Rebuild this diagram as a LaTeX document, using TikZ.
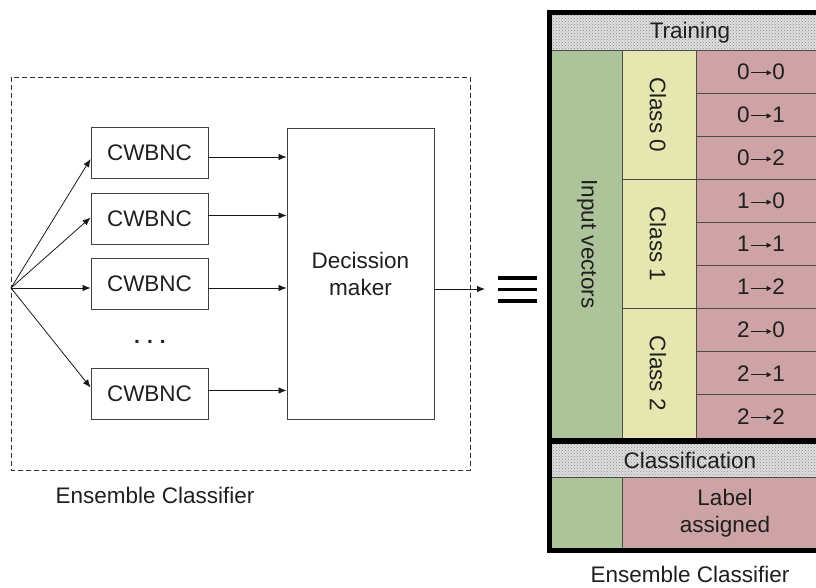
\documentclass[tikz,border=0pt]{standalone}
\usepackage{fontspec}
\setmainfont{Liberation Sans}
\usetikzlibrary{calc,patterns,arrows.meta}

\definecolor{ivgreen}{RGB}{173,196,155}
\definecolor{clyellow}{RGB}{230,230,176}
\definecolor{prpink}{RGB}{205,163,165}
\definecolor{hdrbase}{RGB}{222,222,222}

% thin long arrow used inside the mapping cells
\newcommand\maparrow{\kern0.5pt\tikz[baseline=0pt,x=1pt,y=1pt]{\draw[line width=0.9pt, black!88, -{Triangle[length=5pt,width=5pt]}] (0,6.5) -- (21,6.5);}\kern0.5pt}

\begin{document}
\begin{tikzpicture}[x=1pt,y=-1pt,
  lbl/.style={font=\fontsize{22.5}{27}\selectfont, text=black!88, inner sep=0pt},
  block/.style={draw=black!75, line width=0.9pt, inner sep=0pt, lbl},
  arr/.style={-{Latex[length=8pt,width=6.5pt]}, line width=0.8pt, draw=black!90},
  sep/.style={draw=black!70, line width=0.8pt},
  hdr/.style={fill=hdrbase, postaction={pattern=crosshatch dots, pattern color=black!45}}
]
\useasboundingbox (0,0) rectangle (816,587);
\clip (0,0) rectangle (816,587);

% ---------------- ensemble of CWBNC classifiers ----------------
\draw[draw=black!80, line width=0.8pt, dash pattern=on 5pt off 3pt] (11,77) rectangle (470,470);

\coordinate (src) at (11,288);
\node[block, minimum width=117pt, minimum height=51pt] (c1) at (149.5,153) {CWBNC};
\node[block, minimum width=117pt, minimum height=51pt] (c2) at (149.5,218.5) {CWBNC};
\node[block, minimum width=117pt, minimum height=51pt] (c3) at (149.5,284) {CWBNC};
\node[block, minimum width=117pt, minimum height=51pt] (c4) at (149.5,393.5) {CWBNC};
\node[lbl, font=\fontsize{21}{25}\selectfont\bfseries] (dots) at (150,342) {.\,\,.\,\,.};

\node[block, minimum width=147pt, minimum height=291pt, align=center] (dm) at (360.5,273.5) {Decission\\maker};

\draw[arr] (src) -- ($(c1.west)+(0,6)$);
\draw[arr] (src) -- ($(c2.west)+(0,-1)$);
\draw[arr] (src) -- ($(c3.west)+(0,4)$);
\draw[arr] (src) -- ($(c4.west)+(0,-6)$);

\draw[arr] ($(c1.east)+(0,4)$) coordinate (o1) -- (o1 -| dm.west);
\draw[arr] ($(c2.east)+(0,-3)$) coordinate (o2) -- (o2 -| dm.west);
\draw[arr] ($(c3.east)+(0,4)$) coordinate (o3) -- (o3 -| dm.west);
\draw[arr] ($(c4.east)+(0,-3)$) coordinate (o4) -- (o4 -| dm.west);

\coordinate (eqin) at (485,289);
\draw[arr] ($(dm.east)+(0,15.5)$) -- (eqin);

\node[lbl] (ensL) at (155,495) {Ensemble Classifier};

% equivalence sign
\foreach \yy in {278,289.5,301}
  \draw[line width=3.4pt, black] (498,\yy) -- (537,\yy);

% ---------------- equivalent table view ----------------
\fill[black] (547,10) rectangle (833,553);

% training section
\path[hdr] (552,15) rectangle (828,50);
\node[lbl] (train) at (690,32.5) {Training};

\fill[ivgreen] (552,50) rectangle (622,438);
\fill[clyellow] (622,50) rectangle (696,438);
\fill[prpink] (696,50) rectangle (828,438);
\draw[sep] (552,50) -- (828,50);
\draw[sep] (622,50) -- (622,438);
\draw[sep] (696,50) -- (696,438);
\foreach \k in {1,...,8}
  \draw[sep] (696,{50+43.111*\k}) -- (828,{50+43.111*\k});
\foreach \k in {3,6}
  \draw[sep] (622,{50+43.111*\k}) -- (828,{50+43.111*\k});

\node[lbl, rotate=-90] (inv) at (587,244) {Input vectors};
\foreach \a in {0,1,2} {
  \node[lbl, rotate=-90] (cls\a) at (658,{50+43.111*(3*\a+1.5)}) {Class \a};
  \foreach \b in {0,1,2}
    \node[lbl] (m\a\b) at (761,{50+43.111*(3*\a+\b+0.5)}) {\a\maparrow\b};
}

% classification section
\path[hdr] (552,444) rectangle (828,477);
\node[lbl] (cls) at (690,460.5) {Classification};
\fill[ivgreen] (552,477) rectangle (622,548);
\fill[prpink] (622,477) rectangle (828,548);
\draw[sep] (552,477) -- (828,477);
\draw[sep] (622,477) -- (622,548);
\node[lbl, align=center] (lab) at (725,513) {Label\\assigned};

\node[lbl] (ensR) at (690,574) {Ensemble Classifier};
\end{tikzpicture}
\end{document}
